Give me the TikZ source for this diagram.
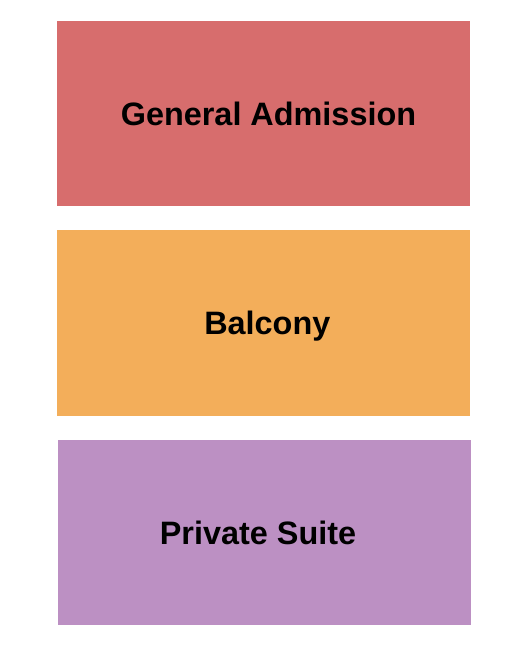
\documentclass[tikz,border=0pt]{standalone}
\usepackage{fontspec}
\setmainfont{Liberation Sans}
\definecolor{gacol}{HTML}{D76D6D}
\definecolor{balcol}{HTML}{F3AE5A}
\definecolor{pscol}{HTML}{BC90C3}
\begin{document}
\begin{tikzpicture}[x=1pt,y=-1pt,
  lbl/.style={font=\bfseries\fontsize{32.4}{36}\selectfont,text=black,inner sep=0pt,anchor=base}]
\useasboundingbox (0,0) rectangle (525,650);
\fill[gacol] (57,21) rectangle (469.5,206);
\fill[balcol] (57,230) rectangle (469.5,415.5);
\fill[pscol] (58,439.5) rectangle (470.5,625);
\node[lbl] (ga) at (268.5,125.7) {General Admission};
\node[lbl] (bal) at (267.3,334.3) {Balcony};
\node[lbl] (ps) at (258,544.3) {Private Suite};
\end{tikzpicture}
\end{document}
